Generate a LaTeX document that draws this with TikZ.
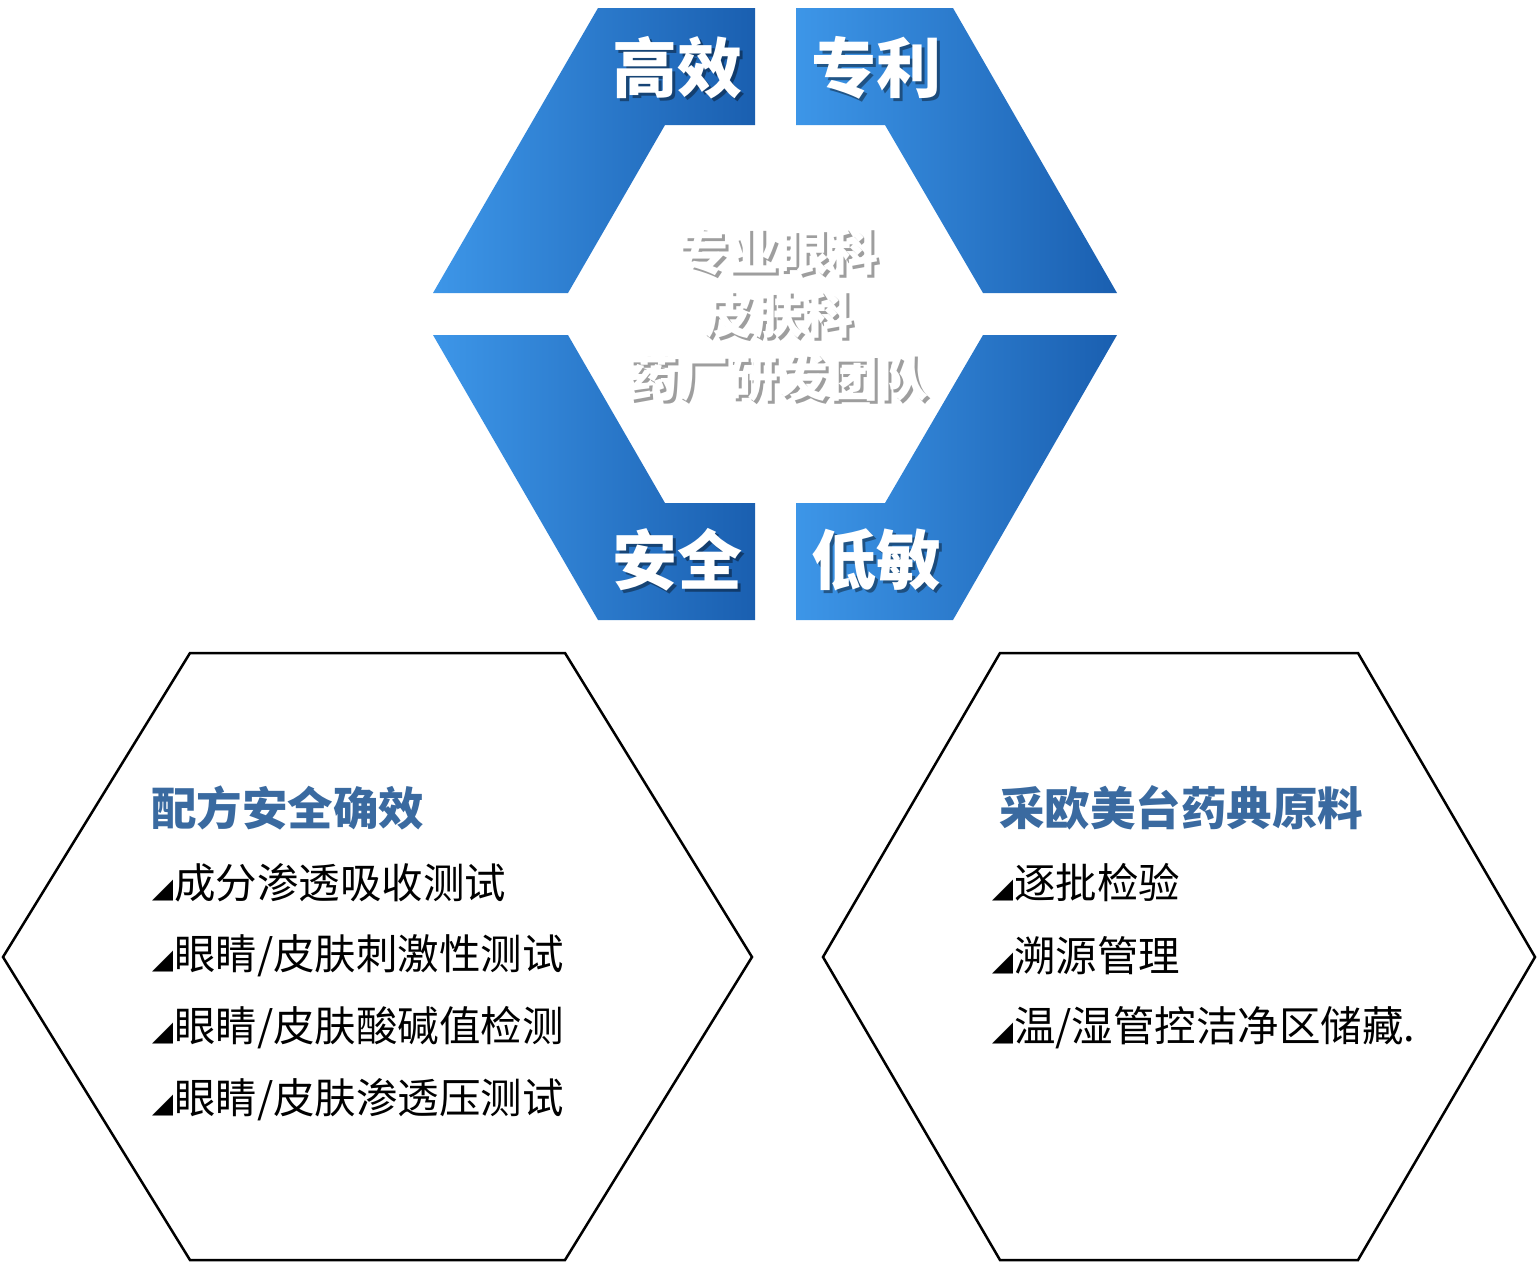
\documentclass[tikz,border=0pt]{standalone}
\usepackage{fontspec}
\setmainfont{Noto Sans CJK SC}
\usetikzlibrary{positioning}
\definecolor{blueL}{HTML}{3D96E8}
\definecolor{blueD}{HTML}{1A5FB0}
\definecolor{titleblue}{HTML}{3A6AA0}
\newcommand\tri{{\fontsize{21}{21}\selectfont ◢}\kern1pt}

\begin{document}
\begin{tikzpicture}[x=1pt,y=-1pt,
    piece/.style={left color=blueL,right color=blueD,draw=none},
    tag/.style={font=\fontsize{65}{65}\selectfont\bfseries,inner sep=0pt,text=white},
    tagshadow/.style={tag,text=black,opacity=0.4},
    team/.style={font=\fontsize{50}{63}\selectfont\bfseries,inner sep=0pt,align=center,text=white},
    teamshadow/.style={team,text=black,opacity=0.38},
    hexline/.style={draw=black,line width=2.5pt,line join=miter},
    head/.style={font=\fontsize{45.5}{45.5}\selectfont\bfseries,text=titleblue,inner sep=0pt,anchor=west},
    item/.style={font=\fontsize{41.5}{41.5}\selectfont,inner sep=0pt,anchor=west}]

    \useasboundingbox (0,0) rectangle (1538,1262);

    % blue ring
    \shade[piece] (598,8) -- (755,8) -- (755,125) -- (665,125) -- (568,293) -- (433,293) -- cycle;
    \shade[piece] (796,8) -- (953,8) -- (1117,293) -- (983,293) -- (885,125) -- (796,125) -- cycle;
    \shade[piece] (433,335) -- (568,335) -- (665,503) -- (755,503) -- (755,620) -- (598,620) -- cycle;
    \shade[piece] (796,503) -- (885,503) -- (983,335) -- (1117,335) -- (953,620) -- (796,620) -- cycle;

    \node[tagshadow] (gaoxiao s) at (680,71) {高效};
    \node[tag] (gaoxiao) at (677,68) {高效};
    \node[tagshadow] (zhuanli s) at (879,71) {专利};
    \node[tag] (zhuanli) at (876,68) {专利};
    \node[tagshadow] (anquan s) at (680,563) {安全};
    \node[tag] (anquan) at (677,560) {安全};
    \node[tagshadow] (dimin s) at (879,563) {低敏};
    \node[tag] (dimin) at (876,560) {低敏};

    \node[teamshadow] (team s) at (781,317) {专业眼科\\皮肤科\\药厂研发团队};
    \node[team] (team) at (778,314) {专业眼科\\皮肤科\\药厂研发团队};

    % hexagons
    \draw[hexline] (190,653) -- (565,653) -- (752,957) -- (565,1260) -- (190,1260) -- (3,957) -- cycle;
    \draw[hexline] (1000,653) -- (1358,653) -- (1535,957) -- (1358,1260) -- (1000,1260) -- (823,957) -- cycle;

    \node[head] (formula) at (151,808) {配方安全确效};
    \foreach \txt [count=\i] in {成分渗透吸收测试,眼睛/皮肤刺激性测试,眼睛/皮肤酸碱值检测,眼睛/皮肤渗透压测试}
        \node[item] (l\i) at (152,{883+72.3*(\i-1)}) {\tri\txt};

    \node[head] (material) at (999,808) {采欧美台药典原料};
    \foreach \txt [count=\i] in {逐批检验,溯源管理,温/湿管控洁净区储藏.}
        \node[item] (r\i) at (992,{883+72.3*(\i-1)}) {\tri\txt};
\end{tikzpicture}
\end{document}
